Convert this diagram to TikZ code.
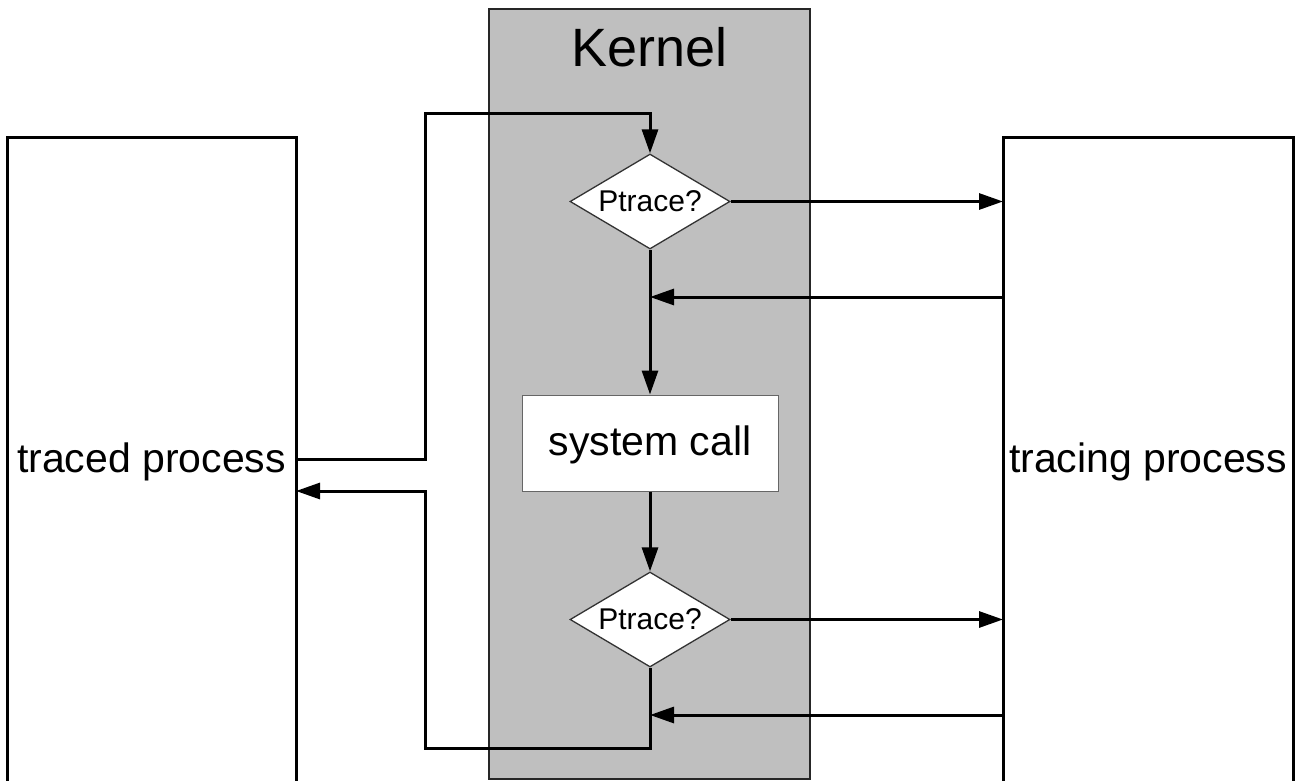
\documentclass[tikz,border=0pt]{standalone}
\usepackage{fontspec}
\setmainfont{Liberation Sans}
\usetikzlibrary{arrows.meta,shapes.geometric}
\begin{document}
\begin{tikzpicture}[x=1pt,y=-1pt,
  procbox/.style={draw=black,line width=3pt,fill=white},
  proclabel/.style={anchor=base,font=\fontsize{41}{47}\selectfont},
  kernelbox/.style={draw=black!85,line width=2.2pt,fill=black!25},
  decision/.style={diamond,draw=black!80,line width=1.3pt,fill=white,
    minimum width=160pt,minimum height=95pt,inner sep=0pt,aspect=1.7,
    text height=22pt,text depth=3pt,
    font=\fontsize{30}{34}\selectfont},
  callbox/.style={rectangle,draw=black!60,line width=1pt,fill=white,
    minimum width=256pt,minimum height=96pt,inner sep=0pt,
    text height=30pt,text depth=6pt,
    font=\fontsize{41}{47}\selectfont},
  flow/.style={line width=3pt,-{Triangle[length=24pt,width=16pt]}}
]
\useasboundingbox (0,0) rectangle (1298,781);
\fill[white] (0,0) rectangle (1298,781);

% side processes
\draw[procbox] (7,138) rectangle (296,790);
\draw[procbox] (1003,138) rectangle (1293,790);
\node[proclabel] (traced) at (151.5,472) {traced process};
\node[proclabel] (tracing) at (1148,472) {tracing process};
\coordinate (tdL) at (296,459);
\coordinate (tdR) at (296,491);

% kernel column
\draw[kernelbox] (489,9) rectangle (810,779);
\node[font=\fontsize{54}{60}\selectfont,anchor=base] (kernel) at (649.5,67) {Kernel};

% flow nodes
\node[decision] (d1) at (650,201.5) {Ptrace?};
\node[callbox] (sys) at (650,443) {system call};
\node[decision] (d2) at (650,619.5) {Ptrace?};

% junction points on the right side
\coordinate (in1) at (1003,201.5);
\coordinate (out1) at (1003,297);
\coordinate (j1) at (650,297);
\coordinate (in2) at (1003,619.5);
\coordinate (out2) at (1003,715);
\coordinate (j2) at (650,715);

% entry into the kernel
\draw[flow] (tdL) -| (425,114) -| (d1.north);
% first check
\draw[flow] (d1.east) -- (in1);
\draw[flow] (out1) -- (j1);
\draw[flow] (d1.south) -- (sys.north);
\draw[flow] (sys.south) -- (d2.north);
% second check
\draw[flow] (d2.east) -- (in2);
\draw[flow] (out2) -- (j2);
% return to the traced process
\draw[flow] (d2.south) -- (650,748) -| (425,491) -- (tdR);
\end{tikzpicture}
\end{document}
